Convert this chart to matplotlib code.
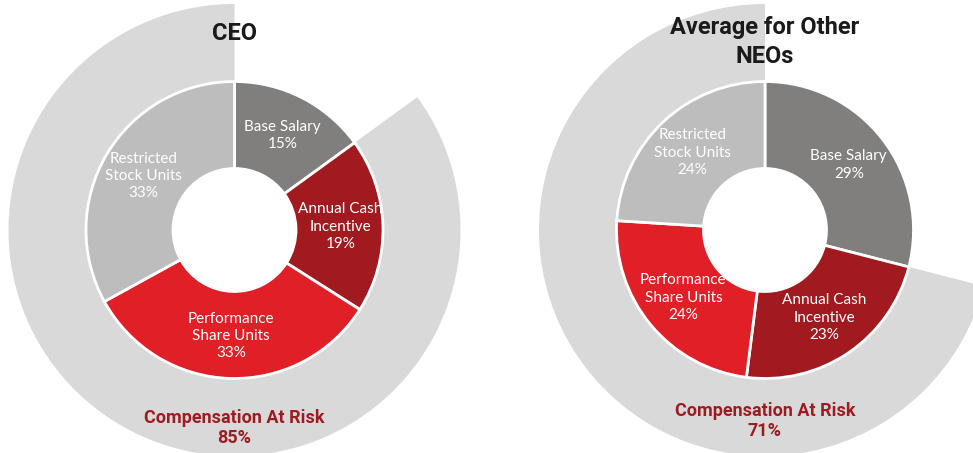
import numpy as np
import matplotlib
matplotlib.use('Agg')
import matplotlib.pyplot as plt
from matplotlib import font_manager

# data
segment_labels = ['Base Salary', 'Annual Cash\nIncentive', 'Performance\nShare Units', 'Restricted\nStock Units']
ceo_values = [15, 19, 33, 33]
neo_values = [29, 23, 24, 24]
chart_titles = ['CEO', 'Average for Other\nNEOs']
risk_caption = 'Compensation At Risk'

# styling
seg_colors = ['#807f7d', '#a11a20', '#e01f26', '#bdbdbd']
ring_color = '#d9d9d9'
risk_color = '#9e1c21'

installed = {f.name for f in font_manager.fontManager.ttflist}
title_font = 'Liberation Sans Narrow' if 'Liberation Sans Narrow' in installed else 'Roboto'
label_font = 'Lato'

W, H = 973, 453


def drawDonut(ax, values, title, center, title_y, risk_y):

    cx, cy = center
    r_out = 148.5
    r_hole = 61.5
    r_ring = 226

    # outer ring for compensation at risk (everything except base salary)
    at_risk = sum(values[1:])
    ax.pie([values[0], at_risk], radius=r_ring, center=center, startangle=90,
           counterclock=False, colors=['none', ring_color],
           wedgeprops=dict(width=r_ring - r_out + 1, edgecolor='none', linewidth=0))

    # inner donut
    ax.pie(values, radius=r_out, center=center, startangle=90, counterclock=False,
           colors=seg_colors,
           wedgeprops=dict(width=r_out - r_hole, edgecolor='white', linewidth=2))

    cum = np.cumsum([0] + values[:-1])
    r_lab = (r_out + r_hole) / 2 + 1
    for lab, v, c in zip(segment_labels, values, cum):
        ang = np.deg2rad(360 * (c + v / 2) / 100)
        x = cx + r_lab * np.sin(ang)
        y = cy + r_lab * np.cos(ang)
        ax.text(x, y, '%s\n%d%%' % (lab, v), ha='center', va='center', color='white',
                fontsize=11, family=label_font, linespacing=1.3, zorder=5)

    ax.text(cx, title_y, title, ha='center', va='center', fontsize=17, fontweight='bold',
            family=title_font, color='#1a1a1a', linespacing=1.37, zorder=5)
    ax.text(cx, risk_y, '%s\n%d%%' % (risk_caption, at_risk), ha='center', va='center',
            fontsize=13, fontweight='bold', family=title_font, color=risk_color,
            linespacing=1.18, zorder=5)


def main():

    fig = plt.figure(figsize=(W / 100, H / 100), dpi=100)
    ax = fig.add_axes([0, 0, 1, 1])

    drawDonut(ax, ceo_values, chart_titles[0], (234.5, H - 230), H - 34, H - 428)
    drawDonut(ax, neo_values, chart_titles[1], (765, H - 230), H - 42, H - 421)

    ax.set_xlim(0, W)
    ax.set_ylim(0, H)
    ax.set_aspect('auto')
    ax.axis('off')

    fig.savefig('out.png', dpi=100, facecolor='white')


if __name__ == '__main__':
    main()
